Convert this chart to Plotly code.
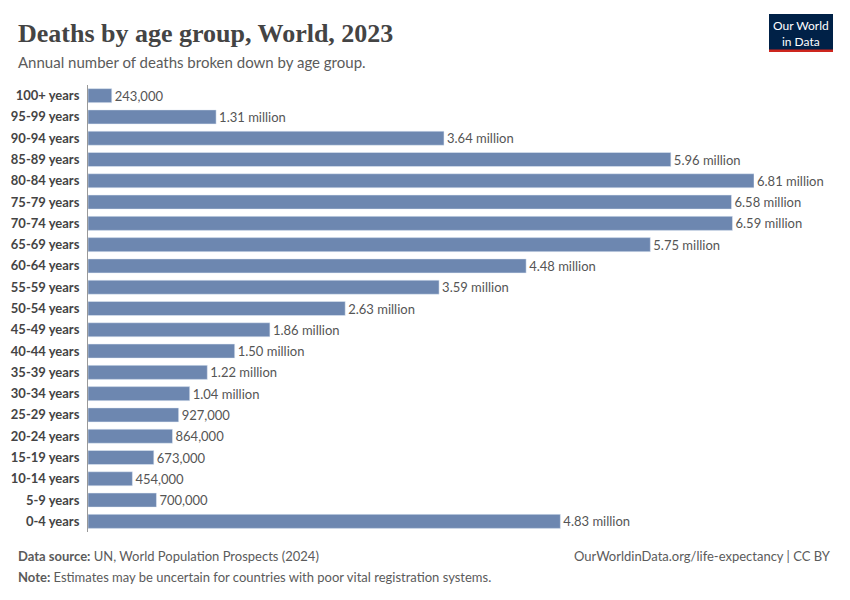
import plotly.graph_objects as go

age_groups = ["0-4 years", "5-9 years", "10-14 years", "15-19 years", "20-24 years",
              "25-29 years", "30-34 years", "35-39 years", "40-44 years", "45-49 years",
              "50-54 years", "55-59 years", "60-64 years", "65-69 years", "70-74 years",
              "75-79 years", "80-84 years", "85-89 years", "90-94 years", "95-99 years",
              "100+ years"]
deaths = [4830000, 700000, 454000, 673000, 864000, 927000, 1040000, 1220000, 1500000,
          1860000, 2630000, 3590000, 4480000, 5750000, 6590000, 6580000, 6810000,
          5960000, 3640000, 1310000, 243000]


def fmt(v):
    if v >= 1e6:
        return f"{v / 1e6:.2f} million"
    return f"{v:,}"


labels = [fmt(v) for v in deaths]

# the page puts the figure 8px in from the top-left, so work in reference pixels minus OFF
OFF = 8
W, H = 850 - OFF, 600 - OFF
L, R, T, B = 88 - OFF, 754 - OFF, 85 - OFF, 532 - OFF
px = lambda p: (p - OFF - L) / (R - L)
py = lambda p: (B - (p - OFF)) / (B - T)

fig = go.Figure(go.Bar(
    x=deaths, y=age_groups, orientation="h",
    marker=dict(color="#6D87B0"), width=0.66,
    text=labels, textposition="outside", cliponaxis=False, constraintext="none",
    textfont=dict(family="Lato", size=13, color="#555555"),
    hoverinfo="skip",
))

fig.update_layout(
    width=W, height=H,
    margin=dict(l=L, r=W - R, t=T, b=H - B),
    plot_bgcolor="white", paper_bgcolor="white",
    showlegend=False,
    font=dict(family="Lato", color="#555555"),
    xaxis=dict(range=[0, 6.81e6], visible=False, fixedrange=True),
    yaxis=dict(categoryorder="array", categoryarray=age_groups, automargin=False,
               range=[-0.5, 20.5], showgrid=False, showline=True, linecolor="#999999",
               linewidth=1, ticks="", ticklabelstandoff=5,
               tickfont=dict(family="Lato", size=13, color="#444444", weight="bold")),
)

ann = [
    dict(x=px(16), y=py(33), text="<b>Deaths by age group, World, 2023</b>",
         font=dict(family="Liberation Serif", size=26, color="#444444")),
    dict(x=px(16), y=py(62), text="Annual number of deaths broken down by age group.",
         font=dict(size=15, color="#5b5b5b")),
    dict(x=px(16), y=py(556), text="<b>Data source:</b> UN, World Population Prospects (2024)",
         font=dict(size=13, color="#5b5b5b")),
    dict(x=px(16), y=py(577), text="<b>Note:</b> Estimates may be uncertain for countries with poor vital registration systems.",
         font=dict(size=13, color="#5b5b5b")),
    dict(x=px(833), y=py(556), xanchor="right",
         text="OurWorldinData.org/life-expectancy | CC BY",
         font=dict(size=13, color="#5b5b5b")),
    dict(x=px(801), y=py(33), xanchor="center", text="Our World<br>in Data",
         font=dict(size=12, color="white", family="Lato"), showarrow=False),
]
for a in ann:
    a.setdefault("xanchor", "left")
    a.update(xref="paper", yref="paper", yanchor="middle", showarrow=False)
    fig.add_annotation(**a)

fig.add_shape(type="rect", xref="paper", yref="paper", x0=px(769), x1=px(833),
              y0=py(52), y1=py(14), fillcolor="#002147", line_width=0, layer="below")
fig.add_shape(type="rect", xref="paper", yref="paper", x0=px(769), x1=px(833),
              y0=py(52), y1=py(49.5), fillcolor="#CE261E", line_width=0)

fig.write_html("out.html")
